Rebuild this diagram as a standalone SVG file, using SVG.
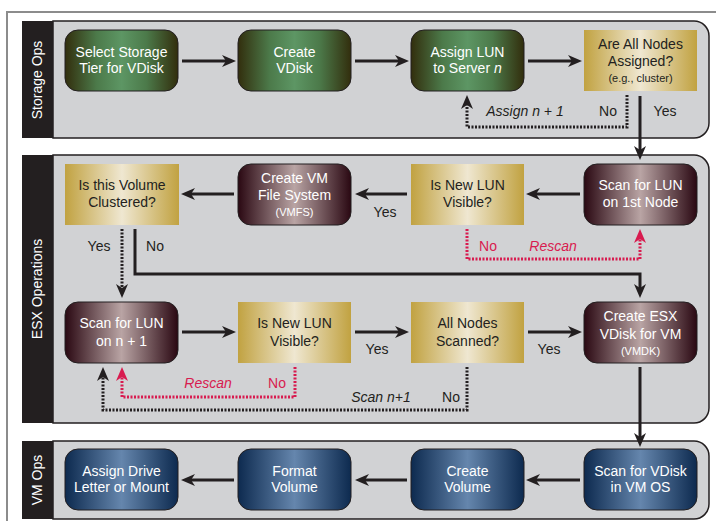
<svg xmlns="http://www.w3.org/2000/svg" width="716" height="521" viewBox="0 0 716 521">
<defs>
<linearGradient id="gGreen" x1="0" y1="0" x2="1" y2="0">
<stop offset="0" stop-color="#322e0d"/><stop offset="0.28" stop-color="#4c7a4a"/><stop offset="0.5" stop-color="#5d9664"/><stop offset="0.72" stop-color="#4c7a4a"/><stop offset="1" stop-color="#322e0d"/>
</linearGradient>
<linearGradient id="gMaroon" x1="0" y1="0" x2="1" y2="0">
<stop offset="0" stop-color="#2a0812"/><stop offset="0.5" stop-color="#b9a4a4"/><stop offset="1" stop-color="#2a0812"/>
</linearGradient>
<linearGradient id="gGold" x1="0" y1="0" x2="1" y2="0">
<stop offset="0" stop-color="#c1a241"/><stop offset="0.5" stop-color="#efe7d1"/><stop offset="1" stop-color="#c1a241"/>
</linearGradient>
<linearGradient id="gBlue" x1="0" y1="0" x2="1" y2="0">
<stop offset="0" stop-color="#0d2a4f"/><stop offset="0.5" stop-color="#6586ad"/><stop offset="1" stop-color="#0d2a4f"/>
</linearGradient>
<marker id="ah" viewBox="0 0 14 12" refX="9" refY="6" markerWidth="14" markerHeight="12" markerUnits="userSpaceOnUse" orient="auto">
<path d="M0,0 L14,6 L0,12 L4,6 Z" fill="#231f20"/>
</marker>
<marker id="ahr" viewBox="0 0 14 12" refX="9" refY="6" markerWidth="14" markerHeight="12" markerUnits="userSpaceOnUse" orient="auto">
<path d="M0,0 L14,6 L0,12 L4,6 Z" fill="#d81b4f"/>
</marker>
</defs>
<style>
.panel{fill:#d1d2d4;stroke:#231f20;stroke-width:1.5}
.bar{fill:#231f20}
.barText{font-family:"Liberation Sans",Arial,sans-serif;font-size:14px;fill:#ffffff;text-anchor:middle}
.rnode{stroke:#231f20;stroke-width:1}
.t{font-family:"Liberation Sans",Arial,sans-serif;font-size:14px;text-anchor:middle}
.s{font-size:11px}
.w{fill:#ffffff}
.d{fill:#231f20}
.lbl{font-family:"Liberation Sans",Arial,sans-serif;font-size:14px;fill:#231f20;text-anchor:middle}
.red{fill:#d81b4f}
.it{font-style:italic}
.solid{fill:none;stroke:#231f20;stroke-width:3;marker-end:url(#ah)}
.dot{fill:none;stroke:#231f20;stroke-width:3;stroke-dasharray:2 1.5;marker-end:url(#ah)}
.dotr{fill:none;stroke:#d81b4f;stroke-width:3;stroke-dasharray:2 1.5;marker-end:url(#ahr)}
</style>
<rect x="0" y="0" width="716" height="521" fill="#ffffff"/>
<path d="M7,530 V12 H720" fill="none" stroke="#8c8c8c" stroke-width="2"/>

<g id="lane-storage">
<path class="panel" d="M53,21 H694 A15,15 0 0 1 709,36 V123 A15,15 0 0 1 694,138 H53 Z"/>
<rect class="bar" x="22" y="21" width="31" height="117"/>
<text class="barText" transform="translate(42,80) rotate(-90)">Storage Ops</text>
</g>
<g id="lane-esx">
<path class="panel" d="M53,155 H694 A15,15 0 0 1 709,170 V408 A15,15 0 0 1 694,423 H53 Z"/>
<rect class="bar" x="22" y="155" width="31" height="268"/>
<text class="barText" transform="translate(42,289) rotate(-90)">ESX Operations</text>
</g>
<g id="lane-vm">
<path class="panel" d="M53,441 H694 A15,15 0 0 1 709,456 V504 A15,15 0 0 1 694,519 H53 Z"/>
<rect class="bar" x="22" y="441" width="31" height="78"/>
<text class="barText" transform="translate(42,480) rotate(-90)">VM Ops</text>
</g>

<g id="connectors">
<line class="solid" x1="182" y1="61" x2="231" y2="61"/>
<line class="solid" x1="355" y1="61" x2="404" y2="61"/>
<line class="solid" x1="528" y1="61" x2="577" y2="61"/>
<path class="dot" d="M627,95 V127 H467 V100"/>
<line class="solid" x1="640" y1="96" x2="640" y2="155"/>
<line class="solid" x1="580" y1="194" x2="531" y2="194"/>
<line class="solid" x1="407" y1="194" x2="360" y2="194"/>
<line class="solid" x1="234" y1="194" x2="186" y2="194"/>
<path class="dotr" d="M467,229 V259 H640 V234"/>
<line class="dot" x1="122" y1="229" x2="122" y2="293"/>
<path class="solid" d="M135,229 V274 H640 V293"/>
<line class="solid" x1="182" y1="332" x2="231" y2="332"/>
<line class="solid" x1="355" y1="332" x2="404" y2="332"/>
<line class="solid" x1="528" y1="332" x2="577" y2="332"/>
<path class="dotr" d="M295,367 V397 H122 V372"/>
<path class="dot" d="M467,367 V410 H103 V372"/>
<line class="solid" x1="640" y1="367" x2="640" y2="442"/>
<line class="solid" x1="580" y1="480" x2="531" y2="480"/>
<line class="solid" x1="407" y1="480" x2="360" y2="480"/>
<line class="solid" x1="234" y1="480" x2="186" y2="480"/>
<text class="lbl it" x="525" y="116">Assign <tspan>n</tspan> + 1</text>
<text class="lbl" x="608" y="116">No</text>
<text class="lbl" x="665" y="116">Yes</text>
<text class="lbl" x="385" y="217">Yes</text>
<text class="lbl red" x="488" y="251">No</text>
<text class="lbl red it" x="553" y="251">Rescan</text>
<text class="lbl" x="99" y="251">Yes</text>
<text class="lbl" x="155" y="251">No</text>
<text class="lbl" x="377" y="354">Yes</text>
<text class="lbl" x="549" y="354">Yes</text>
<text class="lbl red it" x="208" y="388">Rescan</text>
<text class="lbl red" x="277" y="388">No</text>
<text class="lbl it" x="381" y="402">Scan n+1</text>
<text class="lbl" x="451" y="402">No</text>
</g>

<g id="n-select-tier">
<rect class="rnode" x="65" y="30" width="113" height="61" rx="13" fill="url(#gGreen)"/>
<text class="t w" x="121.5" y="57">Select Storage</text>
<text class="t w" x="121.5" y="73">Tier for VDisk</text>
</g>
<g id="n-create-vdisk">
<rect class="rnode" x="238" y="30" width="113" height="61" rx="13" fill="url(#gGreen)"/>
<text class="t w" x="294.5" y="57">Create</text>
<text class="t w" x="294.5" y="73">VDisk</text>
</g>
<g id="n-assign-lun">
<rect class="rnode" x="411" y="30" width="113" height="61" rx="13" fill="url(#gGreen)"/>
<text class="t w" x="467.5" y="57">Assign LUN</text>
<text class="t w" x="467.5" y="73">to Server <tspan font-style="italic">n</tspan></text>
</g>
<g id="n-all-assigned">
<rect x="584" y="30" width="113" height="61" fill="url(#gGold)"/>
<text class="t d" x="640.5" y="49">Are All Nodes</text>
<text class="t d" x="640.5" y="66">Assigned?</text>
<text class="t d s" x="640.5" y="82">(e.g., cluster)</text>
</g>

<g id="n-clustered">
<rect x="65" y="164" width="114" height="61" fill="url(#gGold)"/>
<text class="t d" x="122" y="190">Is this Volume</text>
<text class="t d" x="122" y="207">Clustered?</text>
</g>
<g id="n-create-vmfs">
<rect class="rnode" x="238" y="164" width="113" height="61" rx="13" fill="url(#gMaroon)"/>
<text class="t w" x="294.5" y="183">Create VM</text>
<text class="t w" x="294.5" y="200">File System</text>
<text class="t w s" x="294.5" y="216">(VMFS)</text>
</g>
<g id="n-lun-visible-1">
<rect x="411" y="164" width="113" height="61" fill="url(#gGold)"/>
<text class="t d" x="467.5" y="190">Is New LUN</text>
<text class="t d" x="467.5" y="207">Visible?</text>
</g>
<g id="n-scan-first">
<rect class="rnode" x="584" y="164" width="113" height="61" rx="13" fill="url(#gMaroon)"/>
<text class="t w" x="640.5" y="190">Scan for LUN</text>
<text class="t w" x="640.5" y="207">on 1st Node</text>
</g>

<g id="n-scan-next">
<rect class="rnode" x="65" y="302" width="113" height="61" rx="13" fill="url(#gMaroon)"/>
<text class="t w" x="121.5" y="328">Scan for LUN</text>
<text class="t w" x="121.5" y="346">on n + 1</text>
</g>
<g id="n-lun-visible-2">
<rect x="238" y="302" width="113" height="61" fill="url(#gGold)"/>
<text class="t d" x="294.5" y="328">Is New LUN</text>
<text class="t d" x="294.5" y="346">Visible?</text>
</g>
<g id="n-all-scanned">
<rect x="411" y="302" width="113" height="61" fill="url(#gGold)"/>
<text class="t d" x="467.5" y="328">All Nodes</text>
<text class="t d" x="467.5" y="346">Scanned?</text>
</g>
<g id="n-create-vmdk">
<rect class="rnode" x="584" y="302" width="113" height="61" rx="13" fill="url(#gMaroon)"/>
<text class="t w" x="640.5" y="321">Create ESX</text>
<text class="t w" x="640.5" y="339">VDisk for VM</text>
<text class="t w s" x="640.5" y="355">(VMDK)</text>
</g>

<g id="n-assign-drive">
<rect class="rnode" x="65" y="449" width="113" height="61" rx="13" fill="url(#gBlue)"/>
<text class="t w" x="121.5" y="476">Assign Drive</text>
<text class="t w" x="121.5" y="492">Letter or Mount</text>
</g>
<g id="n-format">
<rect class="rnode" x="238" y="449" width="113" height="61" rx="13" fill="url(#gBlue)"/>
<text class="t w" x="294.5" y="476">Format</text>
<text class="t w" x="294.5" y="492">Volume</text>
</g>
<g id="n-create-volume">
<rect class="rnode" x="411" y="449" width="113" height="61" rx="13" fill="url(#gBlue)"/>
<text class="t w" x="467.5" y="476">Create</text>
<text class="t w" x="467.5" y="492">Volume</text>
</g>
<g id="n-scan-vdisk">
<rect class="rnode" x="584" y="449" width="113" height="61" rx="13" fill="url(#gBlue)"/>
<text class="t w" x="640.5" y="476">Scan for VDisk</text>
<text class="t w" x="640.5" y="492">in VM OS</text>
</g>
</svg>
